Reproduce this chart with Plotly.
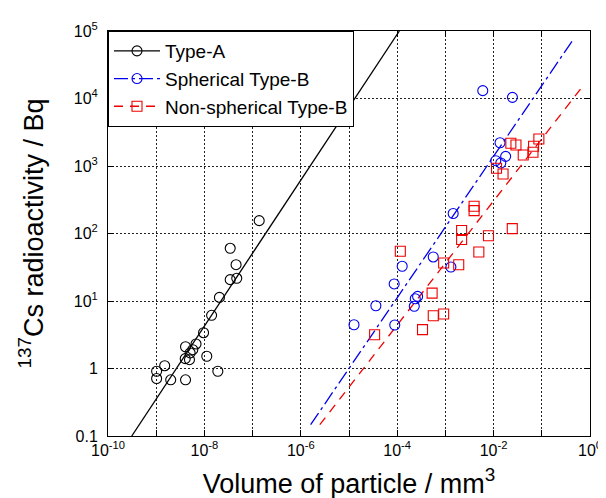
import plotly.graph_objects as go

# ---------------- data ----------------
typeA_vol = [1.37e-7, 3.43e-8, 4.54e-8, 3.43e-8, 4.69e-8, 2.05e-8, 1.41e-8, 9.6e-9,
             6.7e-9, 5.74e-9, 4.06e-9, 5.06e-9, 4.0e-9, 4.9e-9, 1.12e-8, 1.9e-8,
             1.5e-9, 1.02e-9, 1.02e-9, 2.0e-9, 4.06e-9]
typeA_act = [155, 60.4, 34.5, 20.7, 21.7, 11.3, 6.14, 3.39,
             2.31, 1.90, 2.10, 1.70, 1.40, 1.35, 1.52, 0.91,
             1.10, 0.91, 0.71, 0.68, 0.68]

sph_vol = [1.27e-5, 3.61e-5, 8.65e-5, 8.9e-5, 1.27e-4, 2.26e-4, 2.37e-4, 2.65e-4,
           5.6e-4, 1.3e-3, 1.45e-3, 5.96e-3, 2.46e-2, 1.36e-2, 1.78e-2, 1.11e-2, 1.41e-2]
sph_act = [4.45, 8.5, 17.9, 4.41, 32.7, 8.35, 10.8, 11.7,
           44.9, 31.9, 198, 13060, 10400, 2210, 1390, 1199, 1107]

nsph_vol = [3.4e-5, 1.16e-4, 3.35e-4, 5.3e-4, 5.6e-4, 9.2e-4, 9.2e-4, 1.89e-3,
            2.17e-3, 2.17e-3, 4.94e-3, 7.83e-3, 3.94e-3, 3.94e-3, 2.44e-2, 1.15e-2,
            1.57e-2, 2.28e-2, 2.91e-2, 4.12e-2, 6.56e-2, 6.75e-2, 8.69e-2]
nsph_act = [3.17, 54.5, 3.76, 13.1, 6.05, 6.42, 36.5, 34.5,
            111, 81.5, 53.2, 92.5, 253, 218, 118, 924,
            760, 2170, 2050, 1456, 1596, 1959, 2513]

# fitted lines (end points)
fitA_vol = [3.11e-10, 1.11e-4]
fitA_act = [0.1, 1.0e5]
fitS_vol = [1.60e-6, 0.431]
fitS_act = [0.147, 7.18e4]
fitN_vol = [2.48e-6, 0.745]
fitN_act = [0.147, 1.60e4]

x_tickvals = [10.0 ** k for k in range(-10, 1)]
x_ticktext = ["10<sup>-10</sup>", "", "10<sup>-8</sup>", "", "10<sup>-6</sup>", "",
              "10<sup>-4</sup>", "", "10<sup>-2</sup>", "", "10<sup>0</sup>"]
y_tickvals = [0.1, 1, 10, 100, 1e3, 1e4, 1e5]
y_ticktext = ["0.1", "1", "10<sup>1</sup>", "10<sup>2</sup>", "10<sup>3</sup>",
              "10<sup>4</sup>", "10<sup>5</sup>"]

names = ["Type-A", "Spherical Type-B", "Non-spherical Type-B"]
colors = ["black", "#0000ee", "#ee0000"]
dashes = ["solid", "14px,4px,3px,4px", "9px,7px"]
symbols = ["circle-open", "circle-open", "square-open"]


def gapped(vals):
    out = []
    for v in vals:
        out += [v, None]
    return out


FONT = "Arial, Liberation Sans, sans-serif"

fig = go.Figure()
series = [(typeA_vol, typeA_act, fitA_vol, fitA_act),
          (sph_vol, sph_act, fitS_vol, fitS_act),
          (nsph_vol, nsph_act, fitN_vol, fitN_act)]
for i, (xv, yv, fx, fy) in enumerate(series):
    fig.add_trace(go.Scatter(
        x=fx, y=fy, mode="lines", showlegend=False,
        line=dict(color=colors[i], width=1.3, dash=dashes[i]), hoverinfo="skip"))
for i, (xv, yv, fx, fy) in enumerate(series):
    fig.add_trace(go.Scatter(
        x=gapped(xv), y=gapped(yv), mode="lines+markers", name=names[i],
        connectgaps=False,
        line=dict(color=colors[i], width=1.3, dash=dashes[i]),
        marker=dict(symbol=symbols[i], size=10, color=colors[i],
                    line=dict(color=colors[i], width=1.1))))

fig.update_layout(
    width=606, height=498,
    margin=dict(l=100, r=13, t=23, b=70),
    paper_bgcolor="white", plot_bgcolor="white",
    font=dict(family=FONT, color="black"),
    showlegend=True,
    legend=dict(x=0, y=1, xanchor="left", yanchor="top",
                bgcolor="white", bordercolor="black", borderwidth=1,
                font=dict(size=19, family=FONT), itemwidth=46,
                traceorder="normal"),
)

fig.update_xaxes(
    type="log", range=[-10, 0],
    tickvals=x_tickvals, ticktext=x_ticktext,
    ticks="inside", ticklen=6, tickcolor="black",
    showline=True, linecolor="black", linewidth=1, mirror="ticks",
    showgrid=True, gridcolor="#222", gridwidth=1, griddash="2px,2px",
    tickfont=dict(size=16, family=FONT),
    title=dict(text="Volume of particle / mm<sup>3</sup>",
               font=dict(size=27, family=FONT), standoff=15),
    zeroline=False,
)
fig.update_yaxes(
    type="log", range=[-1, 5],
    tickvals=y_tickvals, ticktext=y_ticktext,
    ticks="inside", ticklen=6, tickcolor="black",
    showline=True, linecolor="black", linewidth=1, mirror="ticks",
    showgrid=True, gridcolor="#222", gridwidth=1, griddash="2px,2px",
    tickfont=dict(size=16, family=FONT), ticklabelstandoff=6,
    title=dict(text="<sup>137</sup>Cs radioactivity / Bq",
               font=dict(size=27, family=FONT), standoff=22),
    zeroline=False,
)

fig.write_html("out.html")
